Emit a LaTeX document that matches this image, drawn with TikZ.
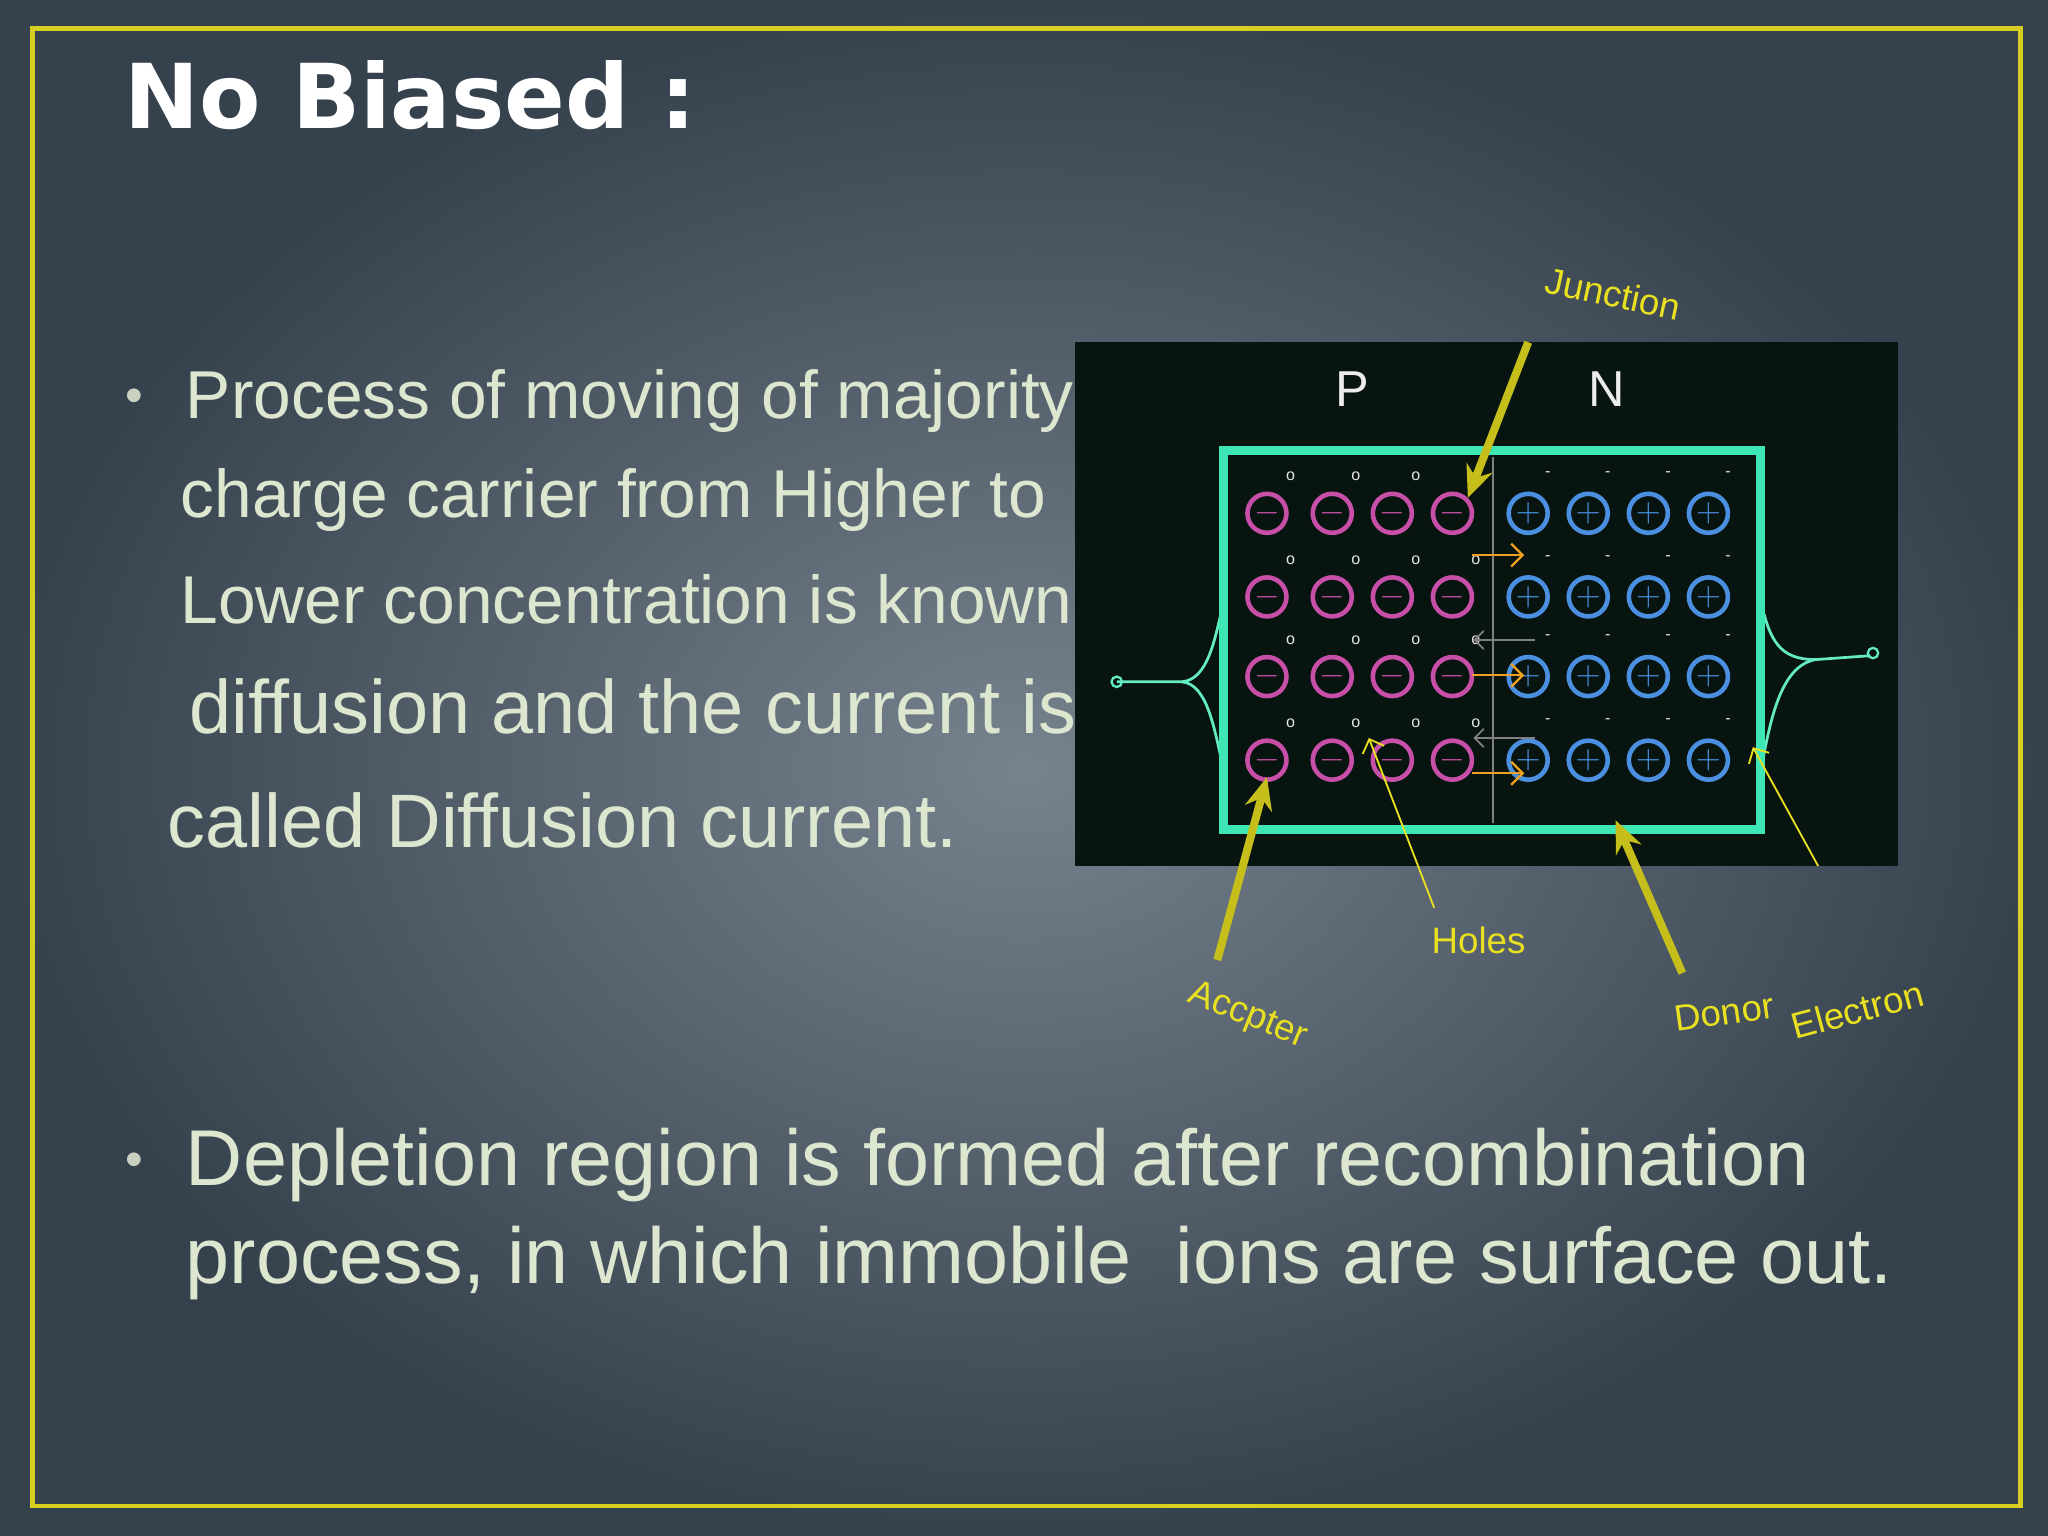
\documentclass[tikz,border=0pt]{standalone}
\usepackage{fontspec}
\setmainfont{Liberation Sans}
\newfontfamily\titlefont{DejaVu Sans}
\usetikzlibrary{arrows.meta}
\definecolor{bodytxt}{HTML}{DDE6CF}
\definecolor{frame}{HTML}{D8D020}
\definecolor{pnfill}{HTML}{07140F}
\definecolor{edge}{HTML}{3FE6B5}
\definecolor{accp}{HTML}{C84FA8}
\definecolor{donr}{HTML}{4A8FE0}
\definecolor{lbl}{HTML}{E8E020}
\definecolor{orng}{HTML}{F0A020}
\definecolor{bgin}{HTML}{76828D}
\definecolor{bgout}{HTML}{36414E}
\tikzset{
 body/.style={anchor=west,text=bodytxt,font=\fontsize{29.5}{34}\selectfont,inner sep=0},
 body2/.style={anchor=west,text=bodytxt,font=\fontsize{33}{38}\selectfont,inner sep=0},
 body3/.style={anchor=west,text=bodytxt,font=\fontsize{34.5}{40}\selectfont,inner sep=0},
 lab/.style={text=lbl,font=\fontsize{16}{18}\selectfont},
 bigarr/.style={draw=lbl!85!black,line width=3.5pt,-{Stealth[length=14pt,width=12pt]}},
 thinarr/.style={draw=lbl,line width=0.8pt,-{Straight Barb[length=5pt]}},
 accion/.style={circle,draw=accp,line width=2pt,minimum size=17pt,inner sep=0,fill=pnfill,text=accp,font=\bfseries\fontsize{14}{14}\selectfont},
 donion/.style={circle,draw=donr,line width=2pt,minimum size=17pt,inner sep=0,fill=pnfill,text=donr,font=\bfseries\fontsize{14}{14}\selectfont},
 carrier/.style={text=white!80!gray,font=\fontsize{7}{7}\selectfont,inner sep=0},
}
\begin{document}
\begin{tikzpicture}[x=0.02cm,y=-0.02cm]
\useasboundingbox (0,0) rectangle (1568,1176);
\shade[inner color=bgin,outer color=bgout] (0,0) rectangle (1568,1176);
\draw[frame,line width=2pt] (25,22) rectangle (1547,1153);
\node[anchor=west,text=white,font=\titlefont\bfseries\fontsize{39}{46}\selectfont,inner sep=0] (title) at (95,73) {No Biased :};
% bullet 1
\node[text=bodytxt!80!gray,font=\fontsize{22}{22}\selectfont] (b1) at (103,307) {•};
\node[body] (l1) at (142,307) {Process of moving of majority};
\node[body] (l2) at (138,383) {charge carrier from Higher to};
\node[body] (l3) at (138,459) {Lower concentration is known as};
\node[body2] (l4) at (145,541) {diffusion and the current is};
\node[body2] (l5) at (128,628) {called Diffusion current.};
% bullet 2
\node[text=bodytxt!80!gray,font=\fontsize{22}{22}\selectfont] (b2) at (103,892) {•};
\node[body3] (m1) at (142,892) {Depletion region is formed after recombination};
\node[body3] (m2) at (142,967) {process, in which immobile\ \ ions are surface out.};
% diagram image
\fill[pnfill] (823,262) rectangle (1453,663);
\node[text=white!85!gray,font=\fontsize{22}{22}\selectfont] (P) at (1035,298) {P};
\node[text=white!85!gray,font=\fontsize{22}{22}\selectfont] (N) at (1230,298) {N};
% leads
\draw[edge!80!white,line width=1.2pt] (855,522) -- (905,522) .. controls (925,520) and (930,490) .. (937,460);
\draw[edge!80!white,line width=1.2pt] (905,522) .. controls (925,524) and (930,560) .. (937,590);
\draw[edge!80!white,line width=1.2pt] (1348,460) .. controls (1355,490) and (1362,505) .. (1390,505) -- (1432,502);
\draw[edge!80!white,line width=1.2pt] (1348,590) .. controls (1355,555) and (1362,510) .. (1390,505);
\draw[edge!80!white,line width=1pt] (855,522) circle (4);
\draw[edge!80!white,line width=1pt] (1434,500) circle (4);
\draw[edge,line width=4pt] (937,345) rectangle (1348,635);
\draw[gray,line width=1pt] (1143,350) -- (1143,630);
\foreach \y [count=\r] in {393,457,518,582}{
 \foreach \x [count=\c] in {970,1020,1066,1112}{
  \node[accion] (a\r\c) at (\x,\y) {$-$};
  \node[carrier] at (\x+18,\y-28) {o};
 }
 \foreach \x [count=\c] in {1170,1216,1262,1308}{
  \node[donion] (d\r\c) at (\x,\y) {$+$};
  \node[carrier] at (\x+15,\y-30) {-};
 }
}
\foreach \y in {425,517,592}{\draw[orng,line width=1pt,-{Straight Barb[length=5pt]}] (1127,\y) -- (1167,\y);}
\foreach \y in {490,565}{\draw[gray,line width=0.8pt,-{Straight Barb[length=4pt]}] (1175,\y) -- (1128,\y);}
% labels and arrows
\node[lab,rotate=-12] (junc) at (1235,225) {Junction};
\coordinate (jt) at (1170,262);
\draw[bigarr] (jt) -- (a14.north east);
\node[lab] (holes) at (1132,720) {Holes};
\coordinate (ht) at (1098,695);
\draw[thinarr] (ht) -- (1048,565);
\node[lab,rotate=-22] (acc) at (955,778) {Accpter};
\coordinate (at) at (932,735);
\draw[bigarr] (at) -- (970,595);
\node[lab,rotate=8] (donor) at (1320,775) {Donor};
\coordinate (dt) at (1288,745);
\draw[bigarr] (dt) -- (1237,628);
\node[lab,rotate=15] (elec) at (1422,773) {Electron};
\coordinate (et) at (1392,663);
\draw[thinarr] (et) -- (1342,572);
\end{tikzpicture}
\end{document}
